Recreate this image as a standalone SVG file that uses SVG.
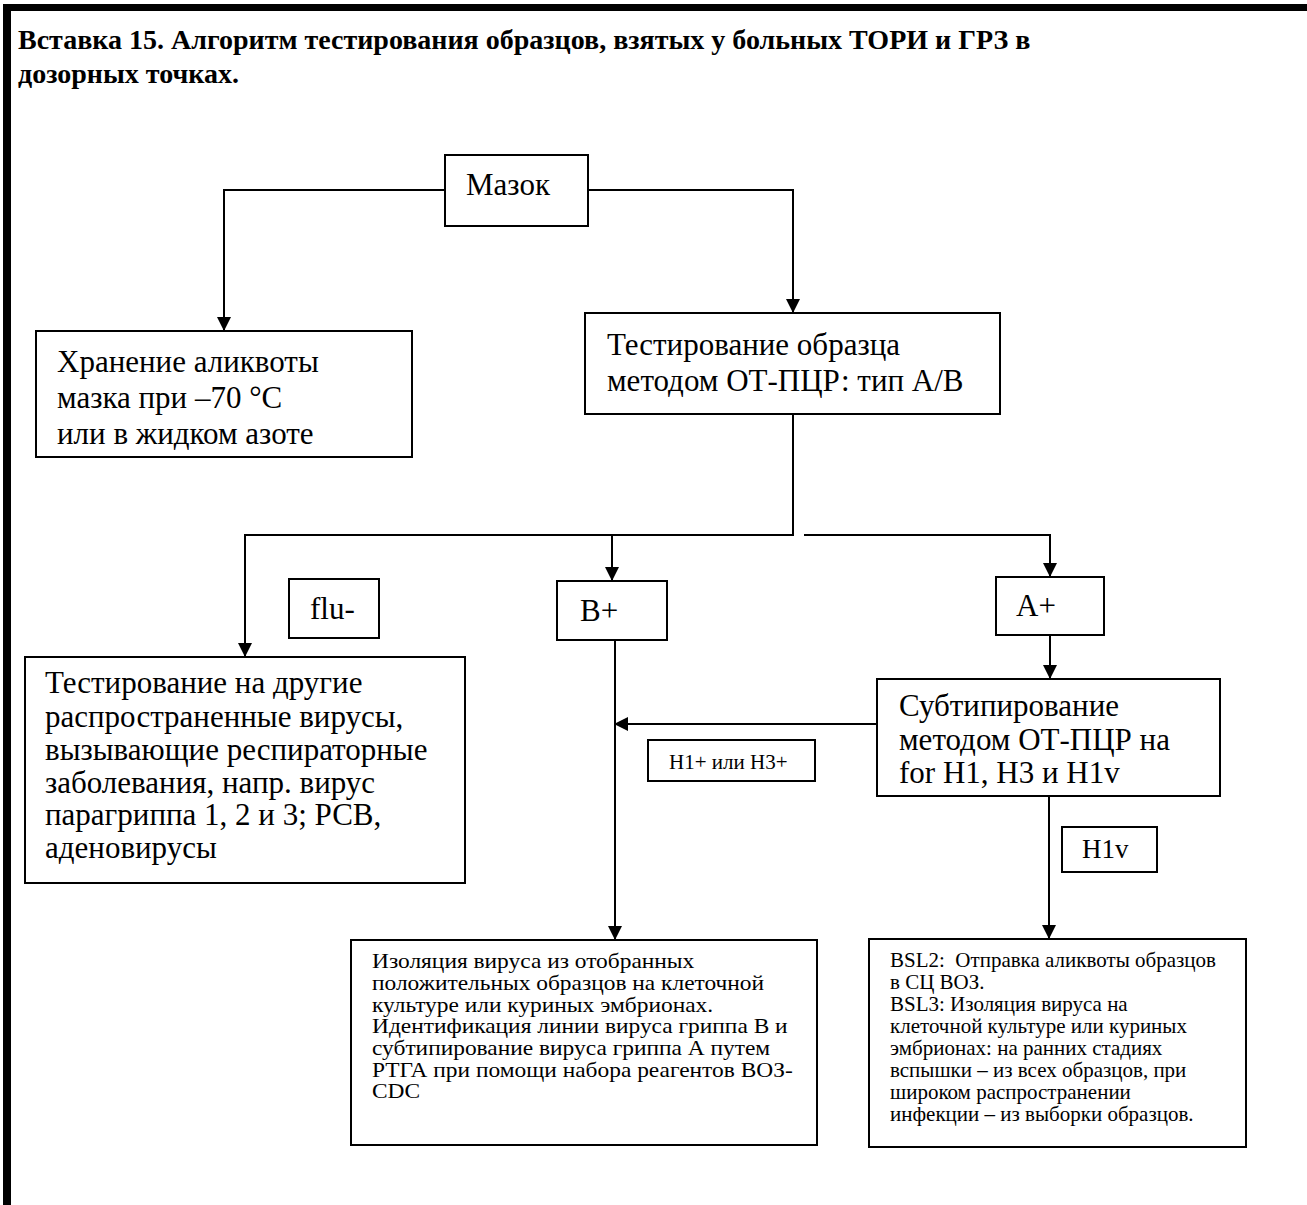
<svg xmlns="http://www.w3.org/2000/svg" width="1307" height="1205" viewBox="0 0 1307 1205">
<defs>
<style>
text{font-family:"Liberation Serif","Times New Roman",serif;fill:#000}
.t{font-size:28px;font-weight:bold}
.b{font-size:31px}
.m{font-size:21px}
.s{font-size:21px}
.s2{font-size:20px}
.box{fill:#fff;stroke:#000;stroke-width:2}
.c{fill:none;stroke:#000;stroke-width:2}
</style>
<marker id="ah" markerUnits="userSpaceOnUse" markerWidth="14" markerHeight="14" refX="14" refY="7" orient="auto">
<path d="M0,0 L14,7 L0,14 z" fill="#000"/>
</marker>
</defs>
<rect width="1307" height="1205" fill="#fff"/>
<rect x="3" y="4" width="1304" height="7" fill="#000"/>
<rect x="3" y="4" width="8" height="1201" fill="#000"/>
<text class="t" x="18" y="49">Вставка 15. Алгоритм тестирования образцов, взятых у больных ТОРИ и ГРЗ в</text>
<text class="t" x="18" y="83">дозорных точках.</text>
<g id="connectors">
<path class="c" d="M445,190 H224 V331" marker-end="url(#ah)"/>
<path class="c" d="M588,190 H793 V313" marker-end="url(#ah)"/>
<path class="c" d="M793,414 V535 H245 V657" marker-end="url(#ah)"/>
<path class="c" d="M612,535 V581" marker-end="url(#ah)"/>
<path class="c" d="M804,535 H1050 V577" marker-end="url(#ah)"/>
<path class="c" d="M1050,635 V679" marker-end="url(#ah)"/>
<path class="c" d="M877,724 H614" marker-end="url(#ah)"/>
<path class="c" d="M615,640 V940" marker-end="url(#ah)"/>
<path class="c" d="M1049,796 V939" marker-end="url(#ah)"/>
</g>
<g id="n-mazok"><rect class="box" x="445" y="155" width="143" height="71"/><text class="b" x="466" y="195">Мазок</text></g>
<g id="n-storage"><rect class="box" x="36" y="331" width="376" height="126"/>
<text class="b" x="57" y="372">Хранение аликвоты</text>
<text class="b" x="57" y="408">мазка при –70 °C</text>
<text class="b" x="57" y="444">или в жидком азоте</text></g>
<g id="n-ab"><rect class="box" x="585" y="313" width="415" height="101"/>
<text class="b" x="607" y="355">Тестирование образца</text>
<text class="b" x="607" y="391">методом ОТ-ПЦР: тип А/В</text></g>
<g id="n-flu"><rect class="box" x="289" y="579" width="90" height="59"/><text class="b" x="310" y="619">flu-</text></g>
<g id="n-bplus"><rect class="box" x="557" y="581" width="110" height="59"/><text class="b" x="580" y="621">B+</text></g>
<g id="n-aplus"><rect class="box" x="996" y="577" width="108" height="58"/><text class="b" x="1016" y="616">A+</text></g>
<g id="n-other"><rect class="box" x="25" y="657" width="440" height="226"/>
<text class="b" x="45" y="693">Тестирование на другие</text>
<text class="b" x="45" y="727">распространенные вирусы,</text>
<text class="b" x="45" y="760">вызывающие респираторные</text>
<text class="b" x="45" y="793">заболевания, напр. вирус</text>
<text class="b" x="45" y="825">парагриппа 1, 2 и 3; РСВ,</text>
<text class="b" x="45" y="858">аденовирусы</text></g>
<g id="n-h1h3"><rect class="box" x="648" y="740" width="167" height="41"/><text class="m" x="669" y="769">H1+ или H3+</text></g>
<g id="n-subtype"><rect class="box" x="877" y="679" width="343" height="117"/>
<text class="b" x="899" y="716">Субтипирование</text>
<text class="b" x="899" y="750">методом ОТ-ПЦР на</text>
<text class="b" x="899" y="783">for H1, H3 и H1v</text></g>
<g id="n-h1v"><rect class="box" x="1062" y="827" width="95" height="45"/><text class="b" x="1082" y="858" style="font-size:27px">H1v</text></g>
<g id="n-isolation"><rect class="box" x="351" y="940" width="466" height="205"/>
<g transform="translate(372,0) scale(1.115,1) translate(-372,0)">
<text class="s" x="372" y="968">Изоляция вируса из отобранных</text>
<text class="s" x="372" y="990">положительных образцов на клеточной</text>
<text class="s" x="372" y="1012">культуре или куриных эмбрионах.</text>
<text class="s" x="372" y="1033">Идентификация линии вируса гриппа В и</text>
<text class="s" x="372" y="1055">субтипирование вируса гриппа А путем</text>
<text class="s" x="372" y="1077">РТГА при помощи набора реагентов ВОЗ-</text>
<text class="s" x="372" y="1098">CDC</text></g></g>
<g id="n-bsl"><rect class="box" x="869" y="939" width="377" height="208"/>
<g transform="translate(890,0) scale(1.05,1) translate(-890,0)">
<text class="s2" x="890" y="967" xml:space="preserve">BSL2:  Отправка аликвоты образцов</text>
<text class="s2" x="890" y="989">в СЦ ВОЗ.</text>
<text class="s2" x="890" y="1011">BSL3: Изоляция вируса на</text>
<text class="s2" x="890" y="1033">клеточной культуре или куриных</text>
<text class="s2" x="890" y="1055">эмбрионах: на ранних стадиях</text>
<text class="s2" x="890" y="1077">вспышки – из всех образцов, при</text>
<text class="s2" x="890" y="1099">широком распространении</text>
<text class="s2" x="890" y="1121">инфекции – из выборки образцов.</text></g></g>
</svg>
